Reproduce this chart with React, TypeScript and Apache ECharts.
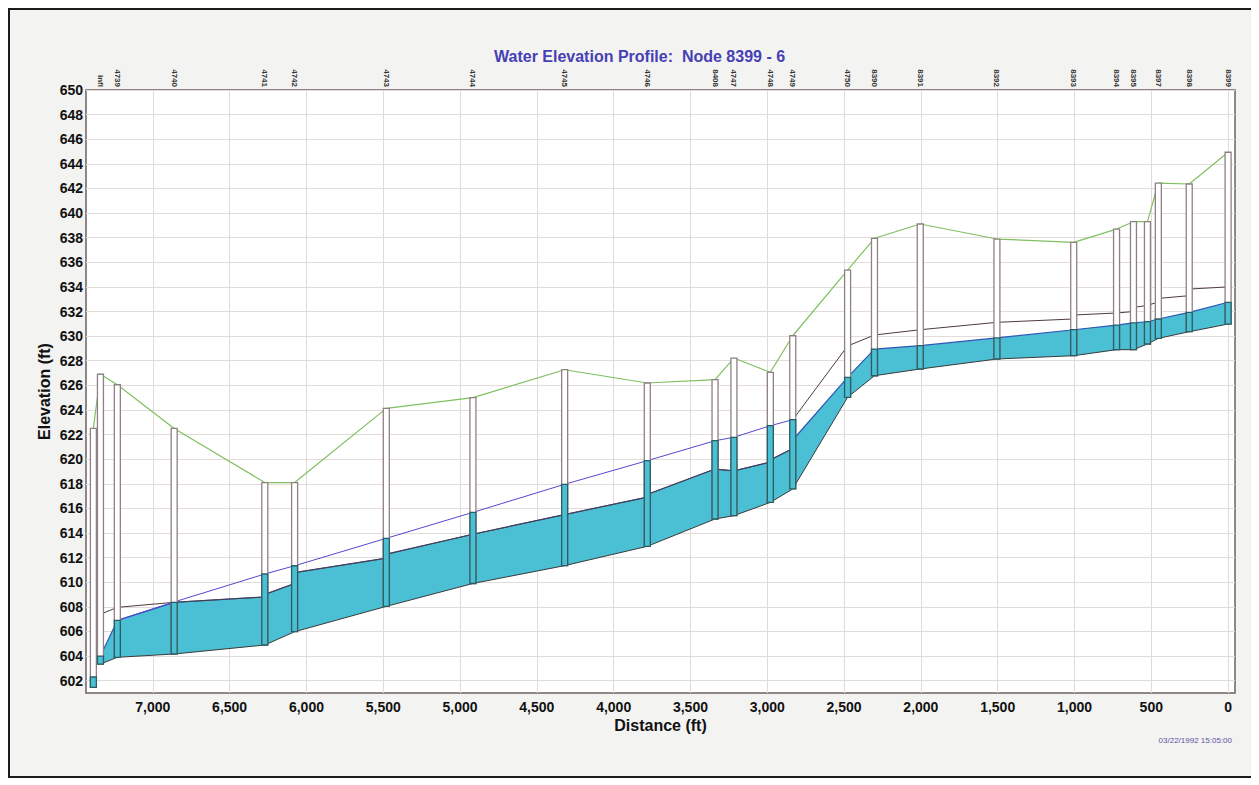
import React, { useEffect, useRef } from 'react';
import * as echarts from 'echarts';

// ---- Node (manhole) data ----
const nodeNames = ['', 'infl', '4739', '4740', '4741', '4742', '4743', '4744', '4745', '4746', '8408', '4747', '4748', '4749', '4750', '8390', '8391', '8392', '8393', '8394', '8395', '', '8397', '8398', '8399'];
const nodeDistance = [7387, 7341, 7231, 6861, 6271, 6077, 5480, 4916, 4319, 3781, 3340, 3217, 2980, 2834, 2477, 2302, 2004, 1505, 1005, 726, 616, 525, 454, 253, 0];
const rimElevation = [622.5, 626.9, 626.05, 622.5, 618.1, 618.1, 624.13, 625.0, 627.27, 626.19, 626.46, 628.22, 627.06, 630.03, 635.37, 637.95, 639.11, 637.89, 637.62, 638.7, 639.3, 639.3, 642.44, 642.36, 644.94];
const nodeInvert = [601.46, 603.35, 603.9, 604.17, 604.9, 605.98, 608.04, 609.9, 611.35, 612.92, 615.14, 615.41, 616.49, 617.58, 625.03, 626.78, 627.33, 628.14, 628.41, 628.9, 628.9, 629.36, 629.82, 630.36, 630.98];
const nodeWaterLevel = [602.3, 604.0, 606.9, 608.37, 610.67, 611.34, 613.57, 615.68, 617.96, 619.88, 621.5, 621.78, 622.72, 623.21, 626.65, 628.95, 629.22, 629.85, 630.52, 630.9, 631.07, 631.17, 631.39, 631.93, 632.75];

// ---- Pipe profile data [distance, elevation] ----
const pipeInvert = [
  [7341, 603.35], [7231, 603.9], [6861, 604.17], [6271, 604.9], [6077, 605.98], [5480, 608.04], [4916, 609.9],
  [4319, 611.35], [3781, 612.92], [3340, 615.14], [3217, 615.41], [2980, 616.49], [2834, 617.58], [2477, 625.03],
  [2302, 626.78], [2004, 627.33], [1505, 628.14], [1005, 628.41], [726, 628.9], [616, 628.9], [525, 629.36],
  [454, 629.82], [253, 630.36], [0, 630.98],
];
const pipeWaterTop = [
  [7341, 604.0], [7231, 606.9], [6861, 608.37], [6280, 608.8], [6262, 609.05], [6085, 609.86], [6068, 610.8],
  [5488, 611.94], [5472, 612.3], [4916, 613.9], [4319, 615.5], [3788, 616.9], [3774, 617.17], [3340, 619.2],
  [3217, 619.05], [2988, 619.74], [2972, 620.0], [2840, 620.83], [2828, 621.64], [2477, 626.65], [2302, 628.95],
  [2004, 629.22], [1505, 629.85], [1005, 630.52], [726, 630.9], [616, 631.07], [525, 631.17], [454, 631.39],
  [253, 631.93], [0, 632.75],
];
const pipeCrown = [
  [7341, 607.4], [7231, 607.96], [6861, 608.37], [6280, 608.8], [6262, 609.05], [6085, 609.86], [6068, 610.8],
  [5488, 611.94], [5472, 612.3], [4916, 613.9], [4319, 615.5], [3788, 616.9], [3774, 617.17], [3340, 619.2],
  [3217, 619.05], [2988, 619.74], [2972, 620.0], [2840, 620.83], [2828, 623.3], [2477, 629.2], [2302, 630.09],
  [2004, 630.52], [1505, 631.12], [1012, 631.39], [998, 631.72], [726, 631.88], [622, 631.99], [610, 632.34],
  [525, 632.5], [460, 632.75], [448, 633.07], [260, 633.28], [246, 633.83], [0, 634.0],
];
const hglLine = [
  [7231, 606.9], [6861, 608.4], [6271, 610.67], [6077, 611.34], [5480, 613.57], [4916, 615.68], [4319, 617.96],
  [3781, 619.88], [3340, 621.5], [3217, 621.78], [2980, 622.72], [2834, 623.21],
];

// ---- Axis ticks ----
const xTickValues = [0, 500, 1000, 1500, 2000, 2500, 3000, 3500, 4000, 4500, 5000, 5500, 6000, 6500, 7000];
const yTickValues = [602, 604, 606, 608, 610, 612, 614, 616, 618, 620, 622, 624, 626, 628, 630, 632, 634, 636, 638, 640, 642, 644, 646, 648, 650];

const FONT = "'Liberation Sans', Arial, sans-serif";
const WATER = '#4bbfd3';

export default function App() {
  const ref = useRef<HTMLDivElement>(null);

  useEffect(() => {
    if (!ref.current) return;
    const chart = echarts.init(ref.current, undefined, { renderer: 'svg' });

    const labeledDist = nodeDistance.filter((_, i) => nodeNames[i] !== '');
    const waterPolygon = [...pipeWaterTop, ...pipeInvert.slice().reverse()];
    const groundLine = nodeDistance.map((d, i) => [d, rimElevation[i]]);
    const manholes = nodeDistance.map((d, i) => [d, rimElevation[i], nodeInvert[i], nodeWaterLevel[i]]);

    const option: any = {
      animation: false,
      backgroundColor: 'transparent',
      textStyle: { fontFamily: FONT },
      title: {
        text: 'Water Elevation Profile:  Node 8399 - 6',
        left: 479,
        top: 33,
        textStyle: { color: '#4640b4', fontSize: 16, fontWeight: 'bold', fontFamily: FONT },
      },
      grid: {
        left: 76, top: 80, width: 1149, height: 603,
        show: true, backgroundColor: '#ffffff', borderColor: '#6e6262', borderWidth: 1.5,
      },
      xAxis: [
        {
          type: 'value', min: -45, max: 7435, inverse: true, position: 'bottom',
          name: 'Distance (ft)', nameLocation: 'middle', nameGap: 24, nameMoveOverlap: false,
          nameTextStyle: { fontWeight: 'bold', fontSize: 16, color: '#111', fontFamily: FONT },
          axisLine: { show: false },
          axisTick: { show: false, customValues: xTickValues },
          axisLabel: {
            customValues: xTickValues, fontWeight: 'bold', fontSize: 14, color: '#111', margin: 7, fontFamily: FONT,
            formatter: (v: number) => v.toLocaleString('en-US'),
          },
          splitLine: { show: true, lineStyle: { color: '#e3dada', width: 1 } },
        },
        {
          type: 'value', min: -45, max: 7435, inverse: true, position: 'top',
          axisLine: { show: false },
          axisTick: { show: false, customValues: labeledDist },
          axisLabel: {
            customValues: labeledDist, rotate: 90, fontSize: 8, fontWeight: 'bold', color: '#333', margin: 3,
            fontFamily: FONT,
            formatter: (v: number) => {
              const i = nodeDistance.indexOf(v);
              return i >= 0 ? nodeNames[i] : '';
            },
          },
          splitLine: { show: false },
        },
      ],
      yAxis: {
        type: 'value', min: 601, max: 650,
        name: 'Elevation (ft)', nameLocation: 'middle', nameGap: 34, nameRotate: 90, nameMoveOverlap: false,
        nameTextStyle: { fontWeight: 'bold', fontSize: 16, color: '#111', fontFamily: FONT },
        axisLine: { show: false },
        axisTick: { show: false, customValues: yTickValues },
        axisLabel: { customValues: yTickValues, fontWeight: 'bold', fontSize: 14, color: '#111', margin: 3, fontFamily: FONT },
        splitLine: { show: true, lineStyle: { color: '#e3dada', width: 1 } },
      },
      graphic: [
        {
          type: 'text', right: 19, top: 726,
          style: { text: '03/22/1992 15:05:00', fill: '#5e4f9e', font: `8px ${FONT}` },
        },
      ],
      series: [
        {
          type: 'custom', name: 'water', z: 1, silent: true,
          data: waterPolygon, encode: { x: 0, y: 1 },
          renderItem: (params: any, api: any) => {
            if (params.dataIndex !== 0) return null;
            const pts = waterPolygon.map((p) => api.coord(p));
            return { type: 'polygon', shape: { points: pts }, style: { fill: WATER, stroke: 'none' } };
          },
        },
        {
          type: 'line', name: 'ground', z: 2, silent: true, symbol: 'none',
          data: groundLine, lineStyle: { color: '#7fc060', width: 1.2 },
        },
        {
          type: 'line', name: 'invert', z: 3, silent: true, symbol: 'none',
          data: pipeInvert, lineStyle: { color: '#3a3a3a', width: 1 },
        },
        {
          type: 'line', name: 'water surface', z: 3, silent: true, symbol: 'none',
          data: pipeWaterTop, lineStyle: { color: '#2f55b8', width: 1.2 },
        },
        {
          type: 'line', name: 'crown', z: 4, silent: true, symbol: 'none',
          data: pipeCrown, lineStyle: { color: '#4e3c3c', width: 1 },
        },
        {
          type: 'line', name: 'HGL', z: 4, silent: true, symbol: 'none',
          data: hglLine, lineStyle: { color: '#5548d0', width: 1 },
        },
        {
          type: 'custom', name: 'manholes', z: 6, silent: true,
          data: manholes, encode: { x: 0, y: 1 },
          renderItem: (params: any, api: any) => {
            const d = api.value(0);
            const top = api.coord([d, api.value(1)]);
            const bot = api.coord([d, api.value(2)]);
            const wat = api.coord([d, api.value(3)]);
            const w = 6;
            return {
              type: 'group',
              children: [
                {
                  type: 'rect',
                  shape: { x: top[0] - w / 2, y: top[1], width: w, height: bot[1] - top[1] },
                  style: { fill: '#ffffff', stroke: '#8f8084', lineWidth: 1.3 },
                },
                {
                  type: 'rect',
                  shape: { x: top[0] - w / 2, y: wat[1], width: w, height: bot[1] - wat[1] },
                  style: { fill: WATER, stroke: '#2b5d62', lineWidth: 1.3 },
                },
              ],
            };
          },
        },
      ],
    };

    chart.setOption(option);
    return () => chart.dispose();
  }, []);

  return (
    <div style={{ width: 1241, height: 766, border: '2px solid #1c1c1c', background: '#f3f3f2' }}>
      <div ref={ref} style={{ width: 1241, height: 766 }} />
    </div>
  );
}
